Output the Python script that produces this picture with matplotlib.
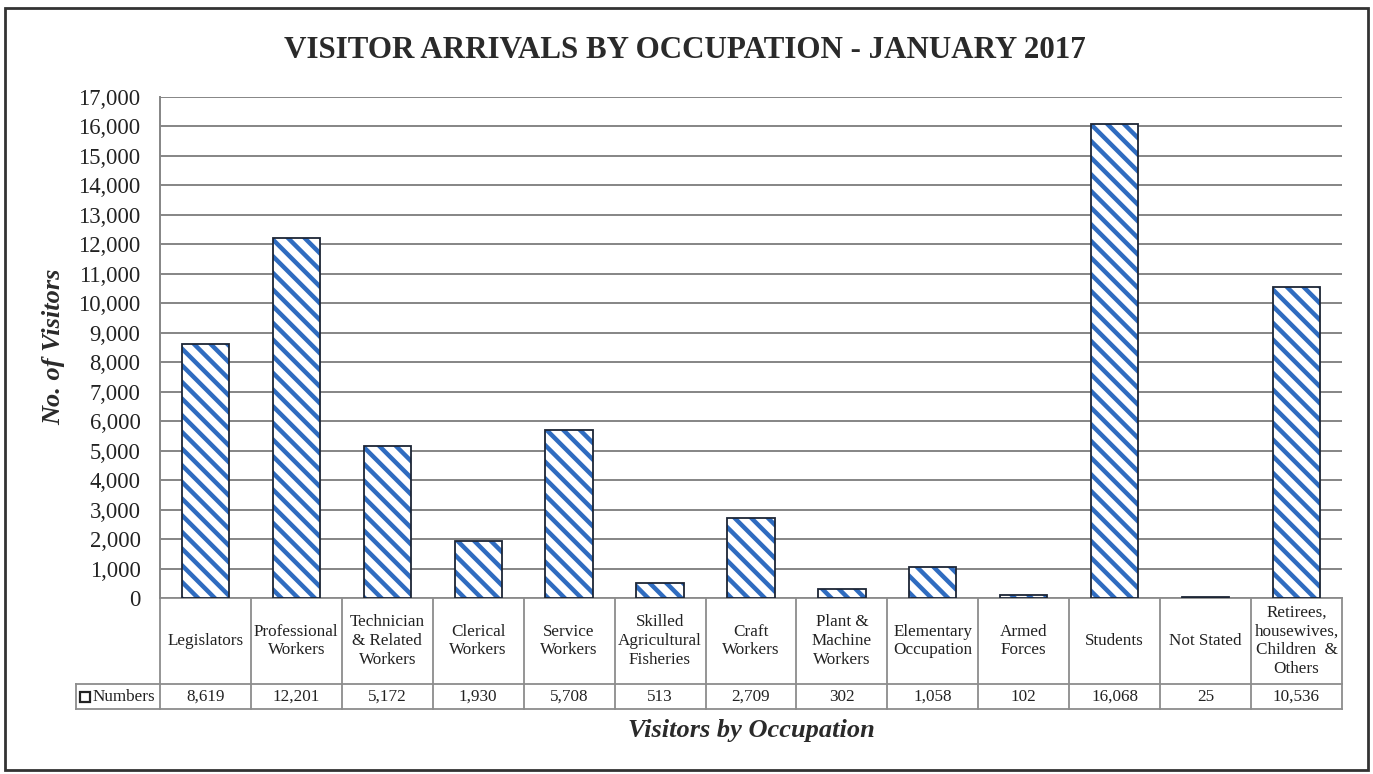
import matplotlib
matplotlib.use("Agg")
import matplotlib.pyplot as plt
from matplotlib.patches import Rectangle
from matplotlib.transforms import blended_transform_factory
from matplotlib.ticker import FuncFormatter

occupations = [
    "Legislators", "Professional\nWorkers", "Technician\n& Related\nWorkers",
    "Clerical\nWorkers", "Service\nWorkers", "Skilled\nAgricultural\nFisheries",
    "Craft\nWorkers", "Plant &\nMachine\nWorkers", "Elementary\nOccupation",
    "Armed\nForces", "Students", "Not Stated",
    "Retirees,\nhousewives,\nChildren  &\nOthers",
]
visitors = [8619, 12201, 5172, 1930, 5708, 513, 2709, 302, 1058, 102, 16068, 25, 10536]
y_ticks = list(range(0, 17001, 1000))

SERIF = ["Liberation Serif", "DejaVu Serif"]
BLUE = "#2f6cc0"
GRID = "#858585"
TABLE = "#8c8c8c"
TXT = "#222222"

plt.rcParams["font.family"] = SERIF
plt.rcParams["hatch.linewidth"] = 3.2

fig = plt.figure(figsize=(13.73, 7.74), dpi=100)
ax = fig.add_axes([0.1165, 0.2274, 0.8609, 0.6473])

x = list(range(len(visitors)))
# hatch takes the edge colour, so draw the stripes and the outline separately
ax.bar(x, visitors, width=0.52, color="white", edgecolor=BLUE, hatch="\\\\",
       linewidth=0, zorder=3)
ax.bar(x, visitors, width=0.52, color="none", edgecolor="#1c2535", linewidth=1.3,
       zorder=4)

ax.set_xlim(-0.5, len(visitors) - 0.5)
ax.set_ylim(0, 17000)
ax.set_yticks(y_ticks)
ax.yaxis.set_major_formatter(FuncFormatter(lambda v, _: f"{int(v):,}"))
ax.tick_params(axis="y", length=0, labelsize=16.3, pad=14, colors=TXT)
ax.set_xticks([])
ax.grid(axis="y", color=GRID, linewidth=1.4, zorder=0)
for side in ("top", "right", "bottom"):
    ax.spines[side].set_visible(False)
ax.spines["left"].set_color(GRID)
ax.spines["left"].set_linewidth(1.4)

fig.text(54 / 1373, 1 - 347 / 774, "No. of Visitors", rotation=90, ha="center",
         va="center", fontsize=19, fontweight="bold", style="italic", color="#2a2a2a")
fig.text(685 / 1373, 1 - 50 / 774, "VISITOR ARRIVALS BY OCCUPATION - JANUARY 2017",
         ha="center", va="center", fontsize=22.3, fontweight="bold", color="#2a2a2a")

# data table under the plot
tr = blended_transform_factory(ax.transData, ax.transAxes)
head_bot = -0.1717
val_bot = -0.2216
lab_left = -1.424
n = len(visitors)
for i in range(n + 1):
    ax.plot([i - 0.5, i - 0.5], [0, val_bot], color=TABLE, lw=1.3,
            transform=tr, clip_on=False)
ax.plot([-0.5, n - 0.5], [0, 0], color=TABLE, lw=1.3, transform=tr, clip_on=False)
for yy in (head_bot, val_bot):
    ax.plot([lab_left, n - 0.5], [yy, yy], color=TABLE, lw=1.3,
            transform=tr, clip_on=False)
ax.plot([lab_left, lab_left], [head_bot, val_bot], color=TABLE, lw=1.3,
        transform=tr, clip_on=False)

for i, (name, val) in enumerate(zip(occupations, visitors)):
    ax.text(i, head_bot / 2, name, transform=tr, ha="center", va="center",
            fontsize=12.3, linespacing=1.22, color=TXT)
    ax.text(i, (head_bot + val_bot) / 2, f"{val:,}", transform=tr, ha="center",
            va="center", fontsize=12.3, color=TXT)

ax.plot([lab_left + 0.1], [(head_bot + val_bot) / 2], marker="s", ms=7,
        mfc="white", mec=TXT, mew=1.6, transform=tr, clip_on=False)
ax.text(lab_left + 0.18, (head_bot + val_bot) / 2, "Numbers", transform=tr,
        ha="left", va="center", fontsize=12.3, color=TXT)

fig.text(751 / 1373, 1 - 730 / 774, "Visitors by Occupation", ha="center",
         va="center", fontsize=19, fontweight="bold", style="italic", color="#2a2a2a")

fig.patches.append(Rectangle((5 / 1373, 4 / 774), 1363 / 1373, 762 / 774,
                             transform=fig.transFigure, fill=False,
                             edgecolor="#333333", linewidth=2))

fig.savefig("out.png", dpi=100)
